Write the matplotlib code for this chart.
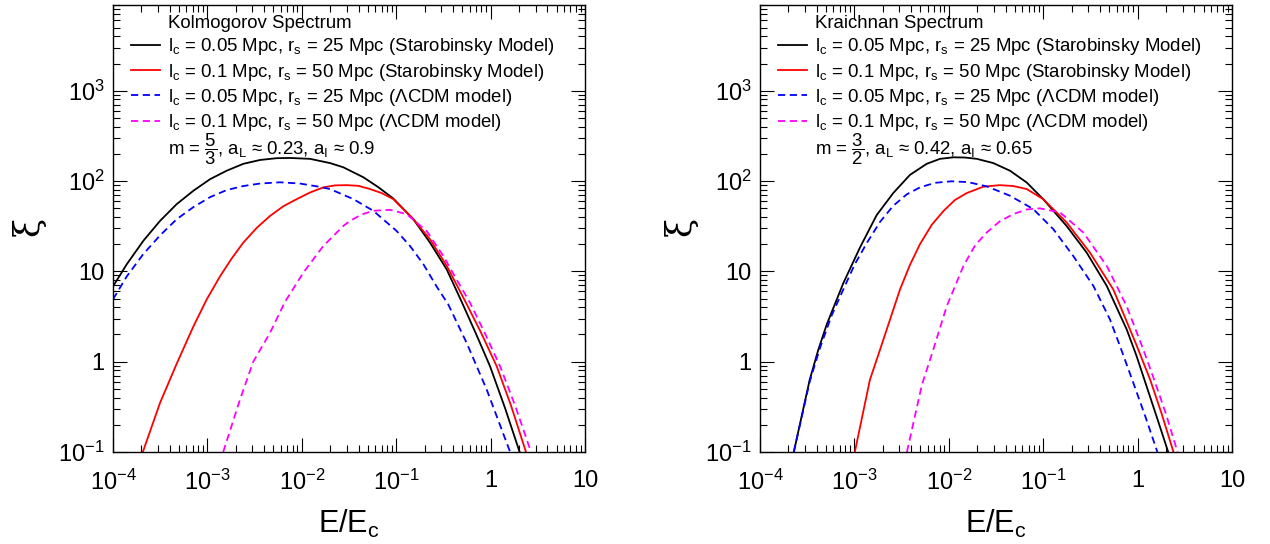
import matplotlib
matplotlib.use('Agg')
import matplotlib.pyplot as plt
from matplotlib.lines import Line2D
from matplotlib.ticker import FixedLocator, FixedFormatter, LogLocator, NullFormatter

# ---------------- data ----------------
x_tick_vals = [1e-4, 1e-3, 1e-2, 1e-1, 1, 10]
x_tick_labels = ['$10^{-4}$', '$10^{-3}$', '$10^{-2}$', '$10^{-1}$', '1', '10']
y_tick_vals = [0.1, 1, 10, 100, 1000]
y_tick_labels = ['$10^{-1}$', '1', '10', '$10^{2}$', '$10^{3}$']

# Kolmogorov spectrum (left panel)
kol_star_005_x = [1.0e-4, 1.40e-4, 2.09e-4, 3.15e-4, 4.73e-4, 7.10e-4, 1.07e-3, 1.60e-3, 2.40e-3,
                  3.61e-3, 5.42e-3, 7.50e-3, 1.22e-2, 1.99e-2, 2.75e-2, 4.49e-2, 6.46e-2, 9.32e-2,
                  0.152, 0.228, 0.343, 0.494, 0.697, 0.986, 1.42, 2.03]
kol_star_005_y = [6.8, 12.0, 21.7, 36.2, 55.5, 78, 105, 130, 155, 171, 179, 180, 176, 158, 142, 110,
                  85.5, 64, 37.8, 20.8, 10.5, 4.6, 2.06, 0.89, 0.308, 0.1]
kol_star_01_x = [2.07e-4, 3.15e-4, 4.73e-4, 7.10e-4, 9.84e-4, 1.36e-3, 1.81e-3, 2.40e-3, 3.33e-3,
                 4.60e-3, 6.37e-3, 8.83e-3, 1.22e-2, 1.69e-2, 2.25e-2, 2.99e-2, 3.97e-2, 5.28e-2,
                 7.02e-2, 9.32e-2, 0.152, 0.228, 0.343, 0.548, 0.791, 1.16, 1.64, 2.37]
kol_star_01_y = [0.1, 0.35, 0.95, 2.45, 4.9, 8.8, 13.9, 20.8, 30.3, 41, 52.6, 63, 74.6, 85, 89.5, 90,
                 88.5, 81.5, 73.5, 63, 37.8, 22.7, 11.5, 4.5, 2.10, 0.89, 0.330, 0.1]
kol_lcdm_005_x = [1.0e-4, 1.40e-4, 2.09e-4, 3.15e-4, 4.73e-4, 7.10e-4, 1.07e-3, 1.60e-3, 2.40e-3,
                  3.61e-3, 5.87e-3, 9.57e-3, 1.44e-2, 1.99e-2, 3.52e-2, 5.72e-2, 0.101, 0.140,
                  0.194, 0.268, 0.356, 0.558, 0.91, 1.61]
kol_lcdm_005_y = [4.9, 8.8, 15.5, 25, 37.8, 51.4, 66.4, 79.4, 88, 93.8, 96.8, 93.8, 87.3, 81.5, 63,
                  46.8, 28, 19.1, 12.0, 6.8, 4.3, 1.61, 0.49, 0.1]
kol_lcdm_01_x = [1.47e-3, 2.21e-3, 3.06e-3, 4.60e-3, 6.64e-3, 1.04e-2, 1.69e-2, 2.75e-2, 3.24e-2,
                 4.32e-2, 5.72e-2, 8.59e-2, 0.129, 0.210, 0.316, 0.437, 0.605, 0.873, 1.26, 1.84,
                 2.68]
kol_lcdm_01_y = [0.1, 0.378, 1.0, 2.08, 4.6, 9.7, 19.1, 31.8, 36.2, 42.7, 46.8, 48, 43, 28, 14.8,
                 8.1, 4.5, 2.05, 0.89, 0.316, 0.1]

# Kraichnan spectrum (right panel)
kra_star_005_x = [2.28e-4, 3.36e-4, 4.15e-4, 5.09e-4, 7.63e-4, 1.15e-3, 1.72e-3, 2.58e-3, 3.88e-3,
                  5.83e-3, 8.07e-3, 1.12e-2, 1.49e-2, 1.98e-2, 2.96e-2, 4.45e-2, 6.68e-2, 0.100,
                  0.177, 0.289, 0.471, 0.767, 0.971, 1.23, 1.60, 2.11]
kra_star_005_y = [0.1, 0.63, 1.36, 2.58, 7.4, 18.5, 41.9, 73.6, 117, 155, 176, 183, 182, 176, 158,
                  130, 96.4, 63, 31.8, 16.1, 6.9, 2.27, 1.17, 0.555, 0.242, 0.1]
kra_star_01_x = [1.01e-3, 1.46e-3, 1.87e-3, 3.04e-3, 3.88e-3, 4.95e-3, 6.59e-3, 8.75e-3, 1.16e-2,
                 1.55e-2, 2.32e-2, 3.48e-2, 4.82e-2, 6.68e-2, 0.100, 0.177, 0.313, 0.553, 0.736,
                 0.977, 1.36, 1.80, 2.40]
kra_star_01_y = [0.1, 0.63, 1.36, 6.3, 11.8, 20, 32.7, 46.4, 61.6, 73.6, 86.5, 90, 88, 81.5, 63,
                 34.8, 16.1, 6.3, 3.08, 1.51, 0.63, 0.264, 0.1]
kra_lcdm_005_x = [2.28e-4, 3.36e-4, 4.33e-4, 5.75e-4, 7.63e-4, 1.01e-3, 1.35e-3, 1.87e-3, 2.58e-3,
                  3.58e-3, 4.95e-3, 7.14e-3, 1.07e-2, 1.60e-2, 2.52e-2, 4.45e-2, 7.85e-2, 0.128,
                  0.208, 0.340, 0.510, 0.652, 0.877, 1.20, 1.62]
kra_lcdm_005_y = [0.1, 0.6, 1.43, 3.26, 6.3, 12.0, 20.5, 35.3, 53.2, 71.1, 85, 95.5, 99.3, 97.2,
                  87.3, 68.7, 48.9, 29.3, 14.8, 6.9, 2.93, 1.48, 0.63, 0.252, 0.1]
kra_lcdm_01_x = [3.6e-3, 5.19e-3, 6.85e-3, 9.50e-3, 1.43e-2, 1.90e-2, 2.52e-2, 3.48e-2, 4.82e-2,
                 6.68e-2, 9.24e-2, 0.151, 0.266, 0.471, 0.767, 1.15, 1.50, 2.00, 2.65]
kra_lcdm_01_y = [0.1, 0.555, 1.36, 4.1, 11.5, 19.4, 26.9, 35.9, 43, 48.5, 49.8, 44.9, 26.9, 11.5,
                 4.1, 1.36, 0.63, 0.263, 0.1]

entry_labels = ['l$_{c}$ = 0.05 Mpc, r$_{s}$ = 25 Mpc (Starobinsky Model)',
                'l$_{c}$ = 0.1 Mpc, r$_{s}$ = 50 Mpc (Starobinsky Model)',
                'l$_{c}$ = 0.05 Mpc, r$_{s}$ = 25 Mpc (ΛCDM model)',
                'l$_{c}$ = 0.1 Mpc, r$_{s}$ = 50 Mpc (ΛCDM model)']
left_header = 'Kolmogorov Spectrum'
right_header = 'Kraichnan Spectrum'
left_params = 'm = $\\dfrac{5}{3}$, a$_{L}$ ≈ 0.23, a$_{I}$ ≈ 0.9'
right_params = 'm = $\\dfrac{3}{2}$, a$_{L}$ ≈ 0.42, a$_{I}$ ≈ 0.65'

# ---------------- style ----------------
plt.rcParams['font.family'] = ['Liberation Sans', 'DejaVu Sans']
plt.rcParams['mathtext.fontset'] = 'custom'
plt.rcParams['mathtext.rm'] = 'Liberation Sans'
plt.rcParams['mathtext.it'] = 'Liberation Sans'
plt.rcParams['mathtext.bf'] = 'Liberation Sans:bold'
plt.rcParams['mathtext.default'] = 'regular'

W, H = 1270, 544
fig = plt.figure(figsize=(W / 100, H / 100), dpi=100)
ax_l = fig.add_axes([113 / W, 1 - 452 / H, 472 / W, 447.5 / H])
ax_r = fig.add_axes([760 / W, 1 - 452 / H, 472 / W, 447.5 / H])

colors = ['black', 'red', 'blue', 'magenta']
styles = ['-', '-', (0, (4, 2.5)), (0, (4, 2.5))]
LW = 1.3
LEG_FS = 13.4


def setup(ax):
    ax.set_xscale('log')
    ax.set_yscale('log')
    ax.set_xlim(1e-4, 10)
    ax.set_ylim(0.1, 9000)
    ax.xaxis.set_major_locator(FixedLocator(x_tick_vals))
    ax.xaxis.set_major_formatter(FixedFormatter(x_tick_labels))
    ax.xaxis.set_minor_locator(LogLocator(base=10, subs=range(2, 10), numticks=30))
    ax.xaxis.set_minor_formatter(NullFormatter())
    ax.yaxis.set_major_locator(FixedLocator(y_tick_vals))
    ax.yaxis.set_major_formatter(FixedFormatter(y_tick_labels))
    ax.yaxis.set_minor_locator(LogLocator(base=10, subs=range(2, 10), numticks=30))
    ax.yaxis.set_minor_formatter(NullFormatter())
    ax.tick_params(which='both', direction='in', top=True, right=True, width=0.8, color='black')
    ax.tick_params(which='major', length=10, labelsize=17)
    ax.tick_params(axis='x', which='major', pad=13)
    ax.tick_params(axis='y', which='major', pad=6)
    ax.tick_params(which='minor', length=5.2)
    for s in ax.spines.values():
        s.set_linewidth(1.0)
    ax.set_xlabel('E/E$_{c}$', fontsize=22)
    ax.xaxis.set_label_coords(0.5, -0.125)
    ax.set_ylabel('ξ', fontsize=25, family='DejaVu Serif')
    ax.yaxis.label.set_verticalalignment('center')


def draw(ax, series, header, params):
    handles = [Line2D([], [], color='none')]
    for (x, y), c, ls in zip(series, colors, styles):
        ax.plot(x, y, color=c, ls=ls, lw=LW)
        handles.append(Line2D([], [], color=c, ls=ls, lw=LW))
    labels = [header] + entry_labels
    ax.legend(handles, labels, loc='upper left', bbox_to_anchor=(0.038, 0.976), frameon=False,
              fontsize=LEG_FS, handlelength=1.56, handletextpad=0.43, borderpad=0,
              borderaxespad=0, labelspacing=0.225)
    ax.text(0.1165, 0.664, params, transform=ax.transAxes, fontsize=LEG_FS,
            ha='left', va='baseline')


setup(ax_l)
setup(ax_r)
draw(ax_l, [(kol_star_005_x, kol_star_005_y), (kol_star_01_x, kol_star_01_y),
            (kol_lcdm_005_x, kol_lcdm_005_y), (kol_lcdm_01_x, kol_lcdm_01_y)],
     left_header, left_params)
draw(ax_r, [(kra_star_005_x, kra_star_005_y), (kra_star_01_x, kra_star_01_y),
            (kra_lcdm_005_x, kra_lcdm_005_y), (kra_lcdm_01_x, kra_lcdm_01_y)],
     right_header, right_params)
ax_l.yaxis.set_label_coords(-0.178, 0.505)
ax_r.yaxis.set_label_coords(-0.169, 0.505)

fig.savefig('out.png', dpi=100)
